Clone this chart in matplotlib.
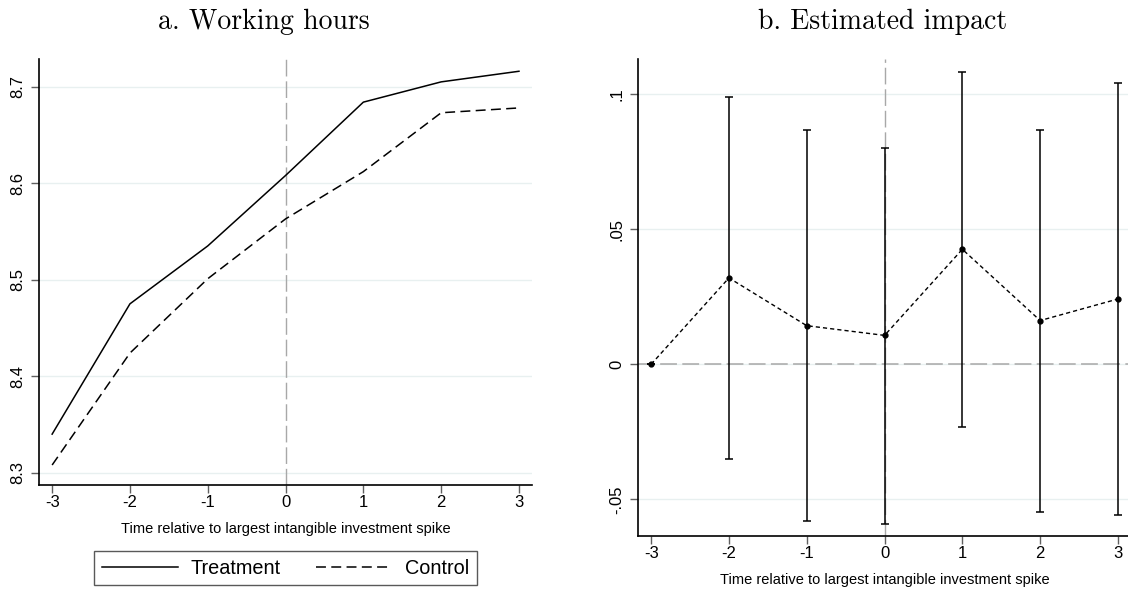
import matplotlib.pyplot as plt

plt.rcParams['font.family'] = ['Liberation Sans', 'DejaVu Sans']

# data
periods = [-3, -2, -1, 0, 1, 2, 3]
treatment = [8.340, 8.475, 8.535, 8.608, 8.684, 8.705, 8.716]
control = [8.308, 8.424, 8.501, 8.563, 8.612, 8.673, 8.678]

impact = [0.0, 0.0320, 0.0143, 0.0107, 0.0426, 0.0162, 0.0242]
ci_low = [0.0, -0.0350, -0.0582, -0.0590, -0.0231, -0.0546, -0.0558]
ci_high = [0.0, 0.0989, 0.0868, 0.0802, 0.1084, 0.0869, 0.1042]

left_yticks = [8.3, 8.4, 8.5, 8.6, 8.7]
right_yticks = [-0.05, 0, 0.05, 0.1]
right_ylabels = ['-.05', '0', '.05', '.1']

xlabel = 'Time relative to largest intangible investment spike'
grid_col = '#e8f0f0'
ref_col = '#a8a8a8'
tick_size = 12

W, H = 1128, 592
fig = plt.figure(figsize=(W / 100, H / 100), dpi=100)

ax1 = fig.add_axes([39.3 / W, 1 - 484.7 / H, 492.5 / W, (484.7 - 59) / H])
ax2 = fig.add_axes([638.3 / W, 1 - 535.7 / H, 492.5 / W, (535.7 - 59) / H])


def style(ax):
    for s in ['top', 'right']:
        ax.spines[s].set_visible(False)
    for s in ['left', 'bottom']:
        ax.spines[s].set_linewidth(1.2)
    ax.set_xlim(-3.165, 3.165)
    ax.set_xticks(periods)
    ax.set_xticklabels([str(p) for p in periods], fontsize=tick_size)
    ax.tick_params(axis='both', direction='out', length=5.8, width=1, color='#606060',
                   labelsize=tick_size)
    ax.tick_params(axis='x', pad=1.5)
    ax.tick_params(axis='y', pad=4)
    ax.yaxis.grid(True, color=grid_col, linewidth=1)
    ax.set_axisbelow(True)
    for lab in ax.get_yticklabels():
        lab.set_rotation(90)
        lab.set_va('center')
    ax.set_xlabel(xlabel, fontsize=10.5, labelpad=9)


# a. working hours
ax1.set_ylim(8.2876, 8.7287)
ax1.set_yticks(left_yticks)
ax1.set_yticklabels([f'{v:.1f}' for v in left_yticks])
ax1.axvline(0, color=ref_col, linewidth=1, dashes=(12, 3.5), zorder=1)
l1, = ax1.plot(periods, treatment, color='black', linewidth=1.1, label='Treatment')
l2, = ax1.plot(periods, control, color='black', linewidth=1.1, dashes=(6.5, 3.5), label='Control')
style(ax1)

leg = fig.legend(handles=[l1, l2], loc='center', ncol=2,
                 bbox_to_anchor=(285.5 / W, 1 - 568 / H), fontsize=14.3,
                 frameon=True, fancybox=False, edgecolor='#303030',
                 handlelength=3.8, handletextpad=0.65, columnspacing=1.8,
                 borderpad=0.4, borderaxespad=0)
leg.get_frame().set_linewidth(1.0)

# b. estimated impact
ax2.set_ylim(-0.0635, 0.1131)
ax2.set_yticks(right_yticks)
ax2.set_yticklabels(right_ylabels)
ax2.axvline(0, color=ref_col, linewidth=1, dashes=(12, 3.5), zorder=1)
ax2.axhline(0, color=ref_col, linewidth=1.1, dashes=(11, 3.5), zorder=1)
err_low = [m - lo for m, lo in zip(impact, ci_low)]
err_high = [hi - m for m, hi in zip(impact, ci_high)]
ax2.errorbar(periods, impact, yerr=[err_low, err_high], fmt='none',
             ecolor='black', elinewidth=1.1, capsize=3, capthick=1.1, zorder=3)
ax2.plot(periods, impact, color='black', linewidth=1, dashes=(3, 2.2),
         marker='o', markersize=3.5, zorder=4)
style(ax2)

fig.text(264 / W, 1 - 29 / H, 'a. Working hours', fontname='cmr10', fontsize=20,
         ha='center', va='baseline')
fig.text(883 / W, 1 - 29 / H, 'b. Estimated impact', fontname='cmr10', fontsize=20,
         ha='center', va='baseline')

plt.savefig('out.png', dpi=100)
